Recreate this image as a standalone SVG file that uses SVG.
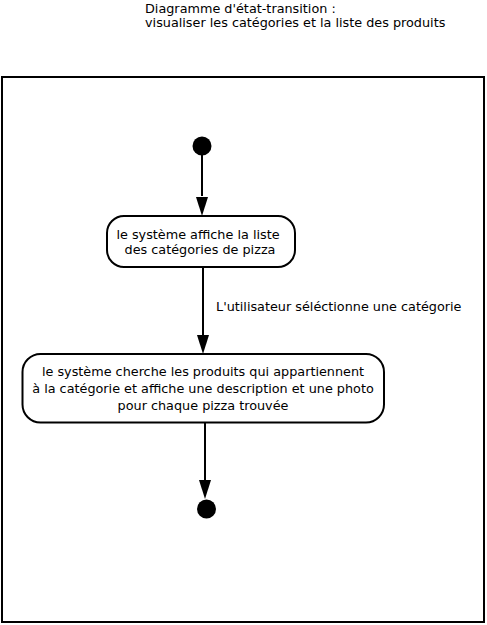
<svg xmlns="http://www.w3.org/2000/svg" width="487" height="625" viewBox="0 0 487 625">
<style>
text{font-family:"DejaVu Sans",sans-serif;font-size:12.8px;fill:#000}
.st{fill:#fff;stroke:#000;stroke-width:2}
.ln{stroke:#000;stroke-width:2;fill:none}
.mid{text-anchor:middle}
</style>
<rect width="487" height="625" fill="#fff"/>
<g id="title">
<text x="145" y="13">Diagramme d'état-transition :</text>
<text x="145" y="27">visualiser les catégories et la liste des produits</text>
</g>
<g id="frame"><rect x="2" y="77" width="482" height="545" class="ln"/></g>
<g id="connectors">
<line x1="202" y1="155" x2="202" y2="196" class="ln"/>
<path d="M196,197 L208,197 L202,216 Z"/>
<line x1="203" y1="267" x2="203" y2="335" class="ln"/>
<path d="M197,335 L209,335 L203,354 Z"/>
<text x="216" y="311">L'utilisateur séléctionne une catégorie</text>
<line x1="205" y1="423" x2="205" y2="480" class="ln"/>
<path d="M199,480 L211,480 L205,499 Z"/>
</g>
<g id="initial"><circle cx="202" cy="146" r="9.5" fill="#000"/></g>
<g id="state1">
<rect x="107" y="216" width="188" height="51" rx="17" class="st"/>
<text x="198" y="238.5" class="mid">le système affiche la liste</text>
<text x="200" y="253.5" class="mid">des catégories de pizza</text>
</g>
<g id="state2">
<rect x="22.5" y="354" width="361.5" height="68.5" rx="18" class="st"/>
<text x="203" y="375.5" class="mid">le système cherche les produits qui appartiennent</text>
<text x="203" y="392.5" class="mid">à la catégorie et affiche une description et une photo</text>
<text x="203" y="409.5" class="mid">pour chaque pizza trouvée</text>
</g>
<g id="final"><circle cx="206.5" cy="509" r="9.5" fill="#000"/></g>
</svg>
